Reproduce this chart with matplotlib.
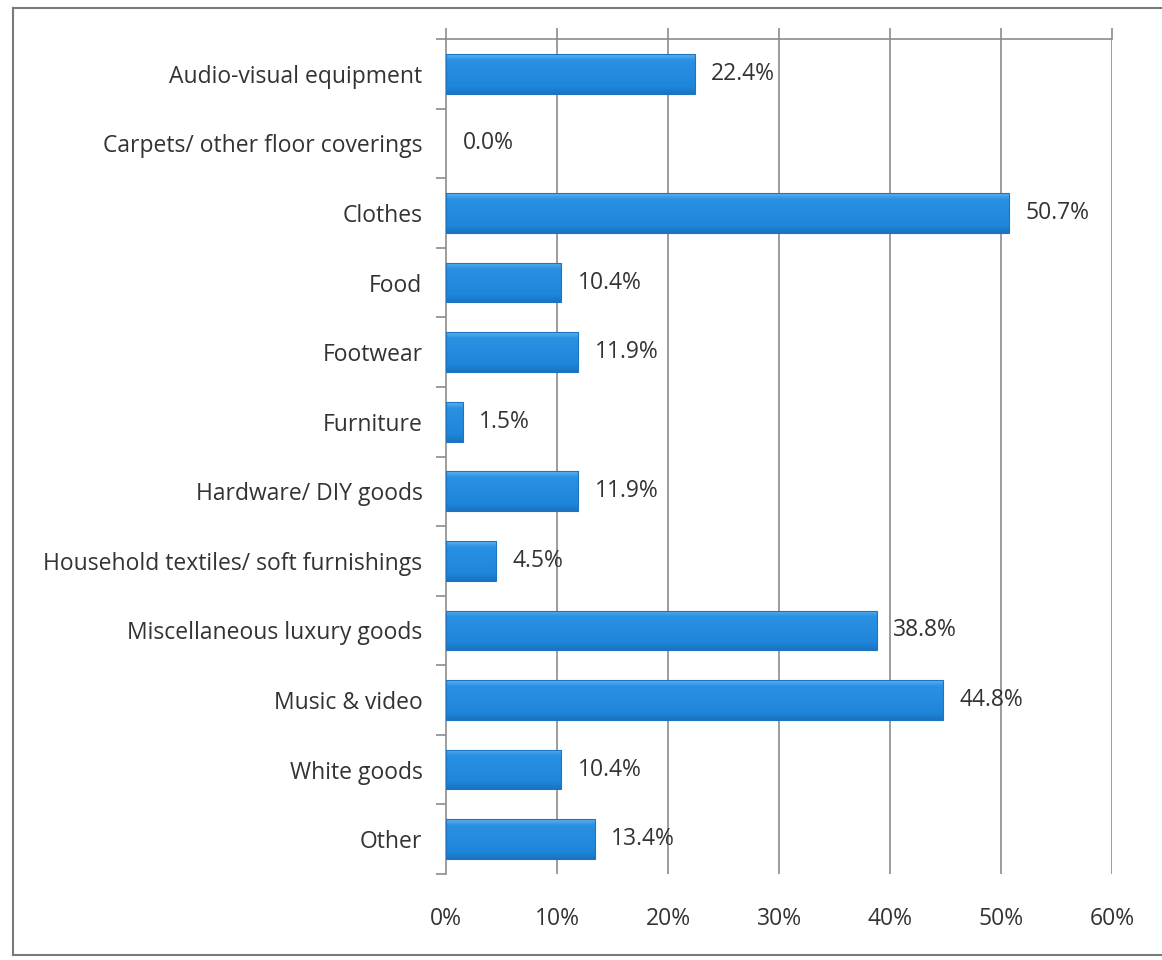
import matplotlib
matplotlib.use("Agg")
import matplotlib.pyplot as plt
import numpy as np
from matplotlib.lines import Line2D
from matplotlib.patches import Rectangle
from matplotlib.colors import LinearSegmentedColormap

categories = [
    "Audio-visual equipment",
    "Carpets/ other floor coverings",
    "Clothes",
    "Food",
    "Footwear",
    "Furniture",
    "Hardware/ DIY goods",
    "Household textiles/ soft furnishings",
    "Miscellaneous luxury goods",
    "Music & video",
    "White goods",
    "Other",
]
values = [22.4, 0.0, 50.7, 10.4, 11.9, 1.5, 11.9, 4.5, 38.8, 44.8, 10.4, 13.4]
x_ticks = [0, 10, 20, 30, 40, 50, 60]
x_tick_labels = ["0%", "10%", "20%", "30%", "40%", "50%", "60%"]

plt.rcParams["font.family"] = ["Open Sans", "DejaVu Sans"]
text_color = "#333333"
grid_color = "#8c8c8c"
fs = 16.5

fig = plt.figure(figsize=(11.62, 9.6), dpi=100)
ax = fig.add_axes([446 / 1162, 1 - 874 / 960, (1112 - 446) / 1162, (874 - 39) / 960])

n = len(categories)
y = np.arange(n)
bar_h = 0.57

# vertical gridlines
for t in x_ticks[1:]:
    ax.axvline(t, color=grid_color, lw=1.2, zorder=0)

# bars with a soft vertical gradient
grad = np.linspace(0, 1, 64).reshape(-1, 1)
cmap = LinearSegmentedColormap.from_list(
    "bar", [(0, "#5db2f0"), (0.15, "#2a90e2"), (0.8, "#1f87db"), (1, "#1a74c2")])
for yi, v in zip(y, values):
    if v <= 0:
        continue
    top, bot = yi - bar_h / 2, yi + bar_h / 2
    im = ax.imshow(grad, extent=[0, v, bot, top], cmap=cmap, aspect="auto",
                   origin="upper", zorder=2, interpolation="bilinear")
    rect = Rectangle((0, top), v, bar_h, facecolor="none",
                     edgecolor="#1d74bf", lw=0.8, zorder=3)
    ax.add_patch(rect)
    im.set_clip_path(rect)
ax.set_xlim(0, 60)
ax.set_ylim(n - 0.5, -0.5)

# value labels
for yi, v in zip(y, values):
    ax.text(v + 1.5, yi, f"{v:.1f}%", va="center", ha="left",
            fontsize=fs, color=text_color, zorder=4)

# axes styling
for s in ["right", "bottom"]:
    ax.spines[s].set_visible(False)
for s in ["left", "top"]:
    ax.spines[s].set_color(grid_color)
    ax.spines[s].set_linewidth(1.2)

ax.set_yticks(np.arange(n + 1) - 0.5, minor=False)
ax.set_yticklabels([])
ax.tick_params(axis="y", which="major", length=7, color=grid_color, width=1.2)
ax.set_yticks(y, minor=True)
ax.set_yticklabels(categories, minor=True, fontsize=fs, color=text_color)
ax.tick_params(axis="y", which="minor", length=0, pad=17)

ax.set_xticks(x_ticks)
ax.set_xticklabels([])
ax.tick_params(axis="x", which="both", top=True, bottom=False, length=8,
               color=grid_color, width=1.2, labeltop=False, labelbottom=False)
# percentage labels sit below the plot area
for t, lab in zip(x_ticks, x_tick_labels):
    ax.text(t, -0.054, lab, transform=ax.get_xaxis_transform(), ha="center",
            va="center", fontsize=fs, color=text_color)

# outer frame
frame = dict(color="#7a7a7a", lw=1.5, transform=fig.transFigure)
fig.add_artist(Line2D([13 / 1162, 1], [1 - 8 / 960, 1 - 8 / 960], **frame))
fig.add_artist(Line2D([13 / 1162, 13 / 1162], [1 - 8 / 960, 1 - 955 / 960], **frame))
fig.add_artist(Line2D([13 / 1162, 1], [1 - 955 / 960, 1 - 955 / 960], **frame))

fig.savefig("out.png", dpi=100, facecolor="white")
